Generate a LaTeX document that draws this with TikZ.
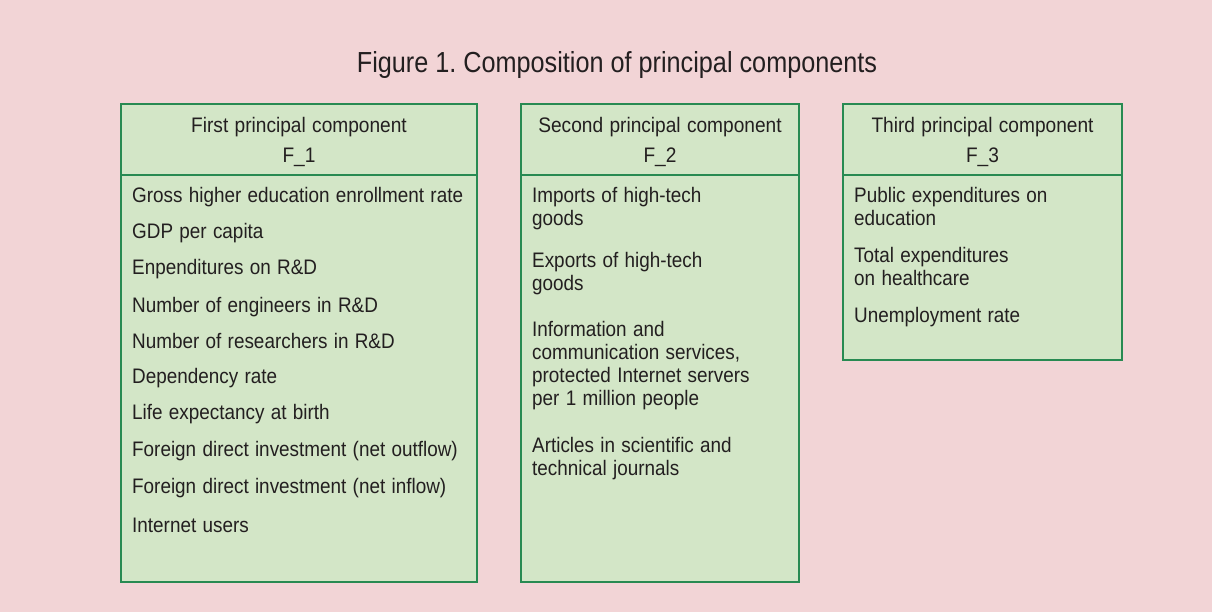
\documentclass[tikz,border=0pt]{standalone}
\usepackage{fontspec}
\setmainfont{Liberation Sans}
\usepackage{xcolor}
\definecolor{bgpink}{RGB}{242,212,214}
\definecolor{boxgreen}{RGB}{211,230,199}
\definecolor{edgegreen}{RGB}{40,138,82}
\definecolor{inkgray}{RGB}{35,31,32}
\frenchspacing

\begin{document}
\begin{tikzpicture}[x=1pt, y=-1pt,
  compbox/.style={draw=edgegreen, fill=boxgreen, line width=1.4pt},
  head/.style={anchor=base, align=center, text width=290pt, inner sep=0pt, text=inkgray, xscale=0.91,
    font=\fontsize{21pt}{30pt}\selectfont},
  item/.style={anchor=base west, align=left, text width=300pt, inner sep=0pt, text=inkgray, xscale=0.90,
    font=\fontsize{21pt}{23pt}\selectfont}]
\useasboundingbox (0,0) rectangle (1212,612);
\fill[bgpink] (0,0) rectangle (1212,612);

\node[anchor=base, inner sep=0pt, text=inkgray, xscale=0.87, font=\fontsize{29pt}{30pt}\selectfont] (title) at (617,73)
  {Figure 1. Composition of principal components};

\coordinate (f1nw) at (121,104);
\coordinate (f1se) at (477,582);
\draw[compbox] (f1nw) rectangle (f1se);
\draw[edgegreen, line width=1.4pt] (121,175)--(477,175);
\node[head] (f1_head) at (299,133) {First principal component\\F\_1};

\node[item, text width=380pt] (gross) at (132,203) {Gross higher education enrollment rate};
\node[item] (gdp) at (132,239) {GDP per capita};
\node[item] (rnd) at (132,275) {Enpenditures on R\&D};
\node[item] (engineers) at (132,312) {Number of engineers in R\&D};
\node[item] (researchers) at (132,348) {Number of researchers in R\&D};
\node[item] (dependency) at (132,383) {Dependency rate};
\node[item] (life) at (132,419) {Life expectancy at birth};
\node[item, text width=380pt] (fdi_out) at (132,456) {Foreign direct investment (net outflow)};
\node[item, text width=380pt] (fdi_in) at (132,493) {Foreign direct investment (net inflow)};
\node[item] (internet) at (132,532) {Internet users};

\coordinate (f2nw) at (521,104);
\coordinate (f2se) at (799,582);
\draw[compbox] (f2nw) rectangle (f2se);
\draw[edgegreen, line width=1.4pt] (521,175)--(799,175);
\node[head] (f2_head) at (660,133) {Second principal component\\F\_2};

\node[item] (imports) at (532,203) {Imports of high-tech\\goods};
\node[item] (exports) at (532,268) {Exports of high-tech\\goods};
\node[item] (ict) at (532,336) {Information and\\communication services,\\protected Internet servers\\per 1 million people};
\node[item] (articles) at (532,452) {Articles in scientific and\\technical journals};

\coordinate (f3nw) at (843,104);
\coordinate (f3se) at (1122,360);
\draw[compbox] (f3nw) rectangle (f3se);
\draw[edgegreen, line width=1.4pt] (843,175)--(1122,175);
\node[head] (f3_head) at (982.5,133) {Third principal component\\F\_3};

\node[item] (public) at (854,203) {Public expenditures on\\education};
\node[item] (health) at (854,263) {Total expenditures\\on healthcare};
\node[item] (unemployment) at (854,322) {Unemployment rate};
\end{tikzpicture}
\end{document}
